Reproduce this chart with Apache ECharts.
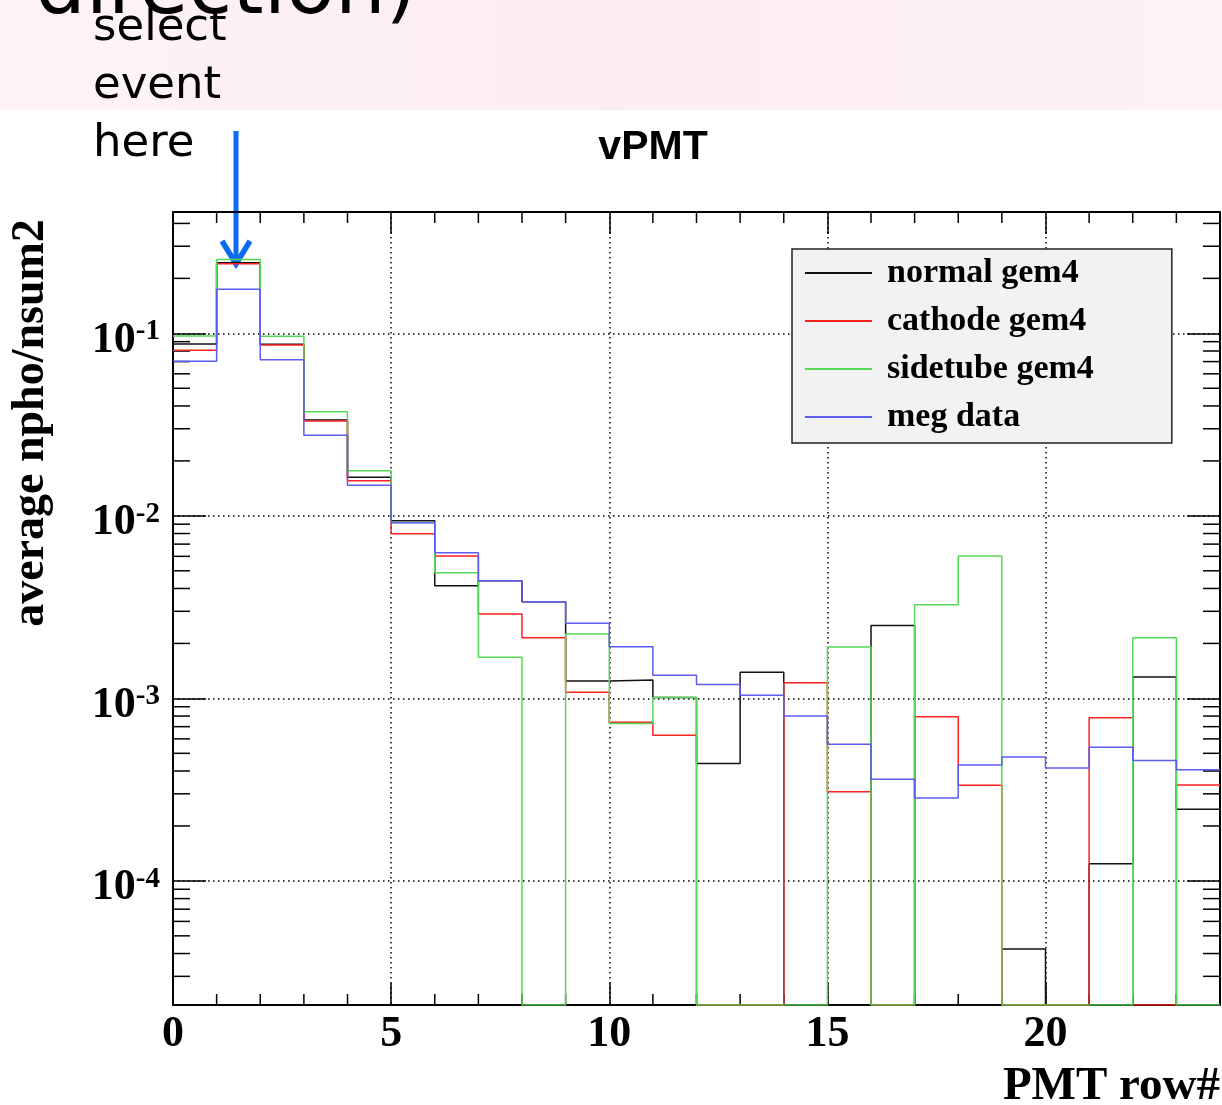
<!DOCTYPE html>
<html>
<head>
<meta charset="utf-8">
<title>vPMT</title>
<script src="https://cdn.jsdelivr.net/npm/echarts@6/dist/echarts.min.js"></script>
<style>
  html, body { margin: 0; padding: 0; background: #fff; }
  #main { width: 1222px; height: 1105px; }
</style>
</head>
<body>
<div id="main"></div>
<script>
// bin low edges (PMT row#), one bin per row, width 1
const binLow = [0, 1, 2, 3, 4, 5, 6, 7, 8, 9, 10, 11, 12, 13, 14, 15, 16, 17, 18, 19, 20, 21, 22, 23]
const binWidth = 1

// average npho/nsum2 per bin, 0 = empty bin
const normalGem4 = [0.0874, 0.2435, 0.087, 0.0335, 0.01626, 0.0094, 0.00414, 0.00441, 0.00338, 0.001244, 0.00126, 0.00101,
  0.00044, 0.00139, 0, 0, 0.00251, 0, 0, 0.0000423, 0, 0.000124, 0.001308, 0.000247]
const cathodeGem4 = [0.0807, 0.2406, 0.0863, 0.0331, 0.01558, 0.00798, 0.00602, 0.0029, 0.00215, 0.001079, 0.000739, 0.000629,
  0, 0, 0.001218, 0.000308, 0, 0.000793, 0.000334, 0, 0, 0.000783, 0, 0.000335]
const sidetubeGem4 = [0.0966, 0.254, 0.0963, 0.0372, 0.01767, 0.0092, 0.00488, 0.00168, 0, 0.00225, 0.000729, 0.00101,
  0, 0, 0, 0.00191, 0, 0.003258, 0.00602, 0, 0, 0, 0.00215, 0]
const megData = [0.0702, 0.1742, 0.0717, 0.0276, 0.01469, 0.00917, 0.00628, 0.00441, 0.00338, 0.00258, 0.00192, 0.00134,
  0.00119, 0.00104, 0.0008, 0.00056, 0.000361, 0.000285, 0.000431, 0.000477, 0.000415, 0.000539, 0.000457, 0.000406]

// axis ranges and ticks
const xMin = 0
const xMax = 24
const xMajorStep = 5
const xMinorTicks = [1, 2, 3, 4, 6, 7, 8, 9, 11, 12, 13, 14, 16, 17, 18, 19, 21, 22, 23]
const yMin = 2.09e-5
const yMax = 0.462
const yDecadeExps = [-4, -3, -2, -1]
const yMinorMantissas = [2, 3, 4, 5, 6, 7, 8, 9]

const serif = 'Liberation Serif'

// step points: bin i drawn from low edge to the next edge, empty bins sit on the frame
function histPoints(values) {
  const pts = values.map((v, i) => [binLow[i], v > 0 ? v : yMin])
  pts.push([binLow[binLow.length - 1] + binWidth, pts[pts.length - 1][1]])
  return pts
}

const yMinorTicks = []
;[-5].concat(yDecadeExps).forEach((e) => {
  yMinorMantissas.forEach((m) => {
    const v = m * Math.pow(10, e)
    if (v > yMin && v < yMax) yMinorTicks.push(v)
  })
})

const lines = [
  { name: 'normal gem4', color: '#111111', data: normalGem4 },
  { name: 'cathode gem4', color: '#ff2020', data: cathodeGem4 },
  { name: 'sidetube gem4', color: '#55d855', data: sidetubeGem4 },
  { name: 'meg data', color: '#5c5cf0', data: megData },
]

const frame = { show: true, onZero: false, lineStyle: { color: '#000', width: 2 } }

const myChart = echarts.init(document.getElementById('main'))

var option = {
  animation: false,
  backgroundColor: '#fff',
  grid: { left: 173, right: 2, top: 212, bottom: 100, containLabel: false },
  legend: {
    orient: 'vertical',
    left: 792,
    top: 249,
    padding: [7, 78, 9, 13],
    backgroundColor: '#f2f2f2',
    borderColor: '#222',
    borderWidth: 1.5,
    borderRadius: 0,
    icon: 'rect',
    itemWidth: 67,
    itemHeight: 2,
    itemGap: 14,
    selectedMode: false,
    data: lines.map((l) => l.name),
    textStyle: {
      fontFamily: serif,
      fontWeight: 'bold',
      fontSize: 34,
      lineHeight: 34,
      color: '#000',
      padding: [0, 0, 0, 10],
    },
  },
  xAxis: [
    {
      type: 'value',
      min: xMin,
      max: xMax,
      interval: xMajorStep,
      position: 'bottom',
      axisLine: frame,
      axisTick: { show: true, inside: true, length: 22, lineStyle: { color: '#000', width: 1.5 } },
      axisLabel: {
        margin: 8,
        showMaxLabel: false,
        fontFamily: serif,
        fontWeight: 'bold',
        fontSize: 44,
        lineHeight: 44,
        color: '#000',
      },
      splitLine: { show: true, lineStyle: { color: '#000', width: 1.5, type: [1.5, 3.5] } },
    },
    {
      type: 'value',
      min: xMin,
      max: xMax,
      interval: xMajorStep,
      position: 'top',
      axisLine: frame,
      axisTick: { show: true, inside: true, length: 22, lineStyle: { color: '#000', width: 1.5 } },
      axisLabel: { show: false },
      splitLine: { show: false },
    },
  ],
  yAxis: [
    {
      type: 'log',
      logBase: 10,
      min: yMin,
      max: yMax,
      position: 'left',
      axisLine: frame,
      axisTick: { show: true, inside: true, length: 33, lineStyle: { color: '#000', width: 1.5 } },
      axisLabel: {
        margin: 13,
        showMinLabel: false,
        showMaxLabel: false,
        formatter: (v) => {
          const lg = Math.log10(v)
          const e = Math.round(lg)
          if (Math.abs(lg - e) > 1e-6 || yDecadeExps.indexOf(e) < 0) return ''
          return '{b|10}{e|' + e + '}'
        },
        rich: {
          b: { fontFamily: serif, fontWeight: 'bold', fontSize: 44, lineHeight: 44, color: '#000', padding: [14, 0, 0, 0] },
          e: { fontFamily: serif, fontWeight: 'bold', fontSize: 29, lineHeight: 29, color: '#000', verticalAlign: 'top', padding: [6, 0, 0, 0] },
        },
      },
      splitLine: { show: true, lineStyle: { color: '#000', width: 1.5, type: [1.5, 3.5] } },
    },
    {
      type: 'log',
      logBase: 10,
      min: yMin,
      max: yMax,
      position: 'right',
      axisLine: frame,
      axisTick: { show: true, inside: true, length: 33, lineStyle: { color: '#000', width: 1.5 } },
      axisLabel: { show: false },
      splitLine: { show: false },
    },
  ],
  series: [
    // minor ticks on the log y axis (left and right)
    {
      type: 'custom',
      silent: true,
      z: 1,
      xAxisIndex: 0,
      yAxisIndex: 0,
      clip: false,
      data: yMinorTicks.map((v) => [xMin, v]),
      renderItem: (params, api) => {
        const cs = params.coordSys
        const p = api.coord([xMin, api.value(1)])
        const st = { stroke: '#000', lineWidth: 1.5 }
        return {
          type: 'group',
          children: [
            { type: 'line', shape: { x1: cs.x, y1: p[1], x2: cs.x + 17, y2: p[1] }, style: st },
            { type: 'line', shape: { x1: cs.x + cs.width - 17, y1: p[1], x2: cs.x + cs.width, y2: p[1] }, style: st },
          ],
        }
      },
    },
    // minor ticks on the x axis (bottom and top)
    {
      type: 'custom',
      silent: true,
      z: 1,
      xAxisIndex: 0,
      yAxisIndex: 0,
      clip: false,
      data: xMinorTicks.map((v) => [v, yMin]),
      renderItem: (params, api) => {
        const cs = params.coordSys
        const p = api.coord([api.value(0), yMin])
        const st = { stroke: '#000', lineWidth: 1.5 }
        return {
          type: 'group',
          children: [
            { type: 'line', shape: { x1: p[0], y1: cs.y + cs.height, x2: p[0], y2: cs.y + cs.height - 11 }, style: st },
            { type: 'line', shape: { x1: p[0], y1: cs.y, x2: p[0], y2: cs.y + 11 }, style: st },
          ],
        }
      },
    },
  ].concat(
    lines.map((l) => ({
      name: l.name,
      type: 'line',
      step: 'end',
      showSymbol: false,
      symbol: 'none',
      z: 3,
      xAxisIndex: 0,
      yAxisIndex: 0,
      itemStyle: { color: l.color },
      lineStyle: { color: l.color, width: 1.5 },
      data: histPoints(l.data),
    }))
  ),
  graphic: [
    // slide background strip at the top
    {
      type: 'rect',
      z: -10,
      shape: { x: 0, y: 0, width: 1222, height: 110 },
      style: {
        fill: new echarts.graphic.LinearGradient(0, 0, 1, 0, [
          { offset: 0, color: '#fdf3f5' },
          { offset: 0.5, color: '#fcedf0' },
          { offset: 1, color: '#fdf2f4' },
        ]),
      },
    },
    {
      type: 'text',
      x: 35,
      y: -8,
      style: { text: 'direction)', fontFamily: 'DejaVu Sans', fontSize: 80, fill: '#000', align: 'left', verticalAlign: 'middle' },
    },
    {
      type: 'text',
      x: 93,
      y: -1,
      style: { text: 'select\nevent\nhere', fontFamily: 'DejaVu Sans', fontSize: 45, lineHeight: 58, fill: '#000', align: 'left', verticalAlign: 'top' },
    },
    // arrow pointing at the selected bin
    {
      type: 'line',
      shape: { x1: 236, y1: 131, x2: 236, y2: 262 },
      style: { stroke: '#0b6cf2', lineWidth: 5 },
    },
    {
      type: 'polyline',
      shape: { points: [[222, 241], [236, 264], [250, 241]] },
      style: { stroke: '#0b6cf2', lineWidth: 5.5, fill: null, lineJoin: 'miter' },
    },
    {
      type: 'text',
      x: 653,
      y: 148,
      style: { text: 'vPMT', fontFamily: 'Liberation Sans', fontWeight: 'bold', fontSize: 41, fill: '#000', align: 'center', verticalAlign: 'middle' },
    },
    {
      type: 'text',
      x: 31,
      y: 423,
      rotation: Math.PI / 2,
      style: { text: 'average npho/nsum2', fontFamily: serif, fontWeight: 'bold', fontSize: 46, fill: '#000', align: 'center', verticalAlign: 'middle' },
    },
    {
      type: 'text',
      x: 1220,
      y: 1087,
      style: { text: 'PMT row#', fontFamily: serif, fontWeight: 'bold', fontSize: 47, fill: '#000', align: 'right', verticalAlign: 'middle' },
    },
  ],
}

option && myChart.setOption(option)
</script>
</body>
</html>
